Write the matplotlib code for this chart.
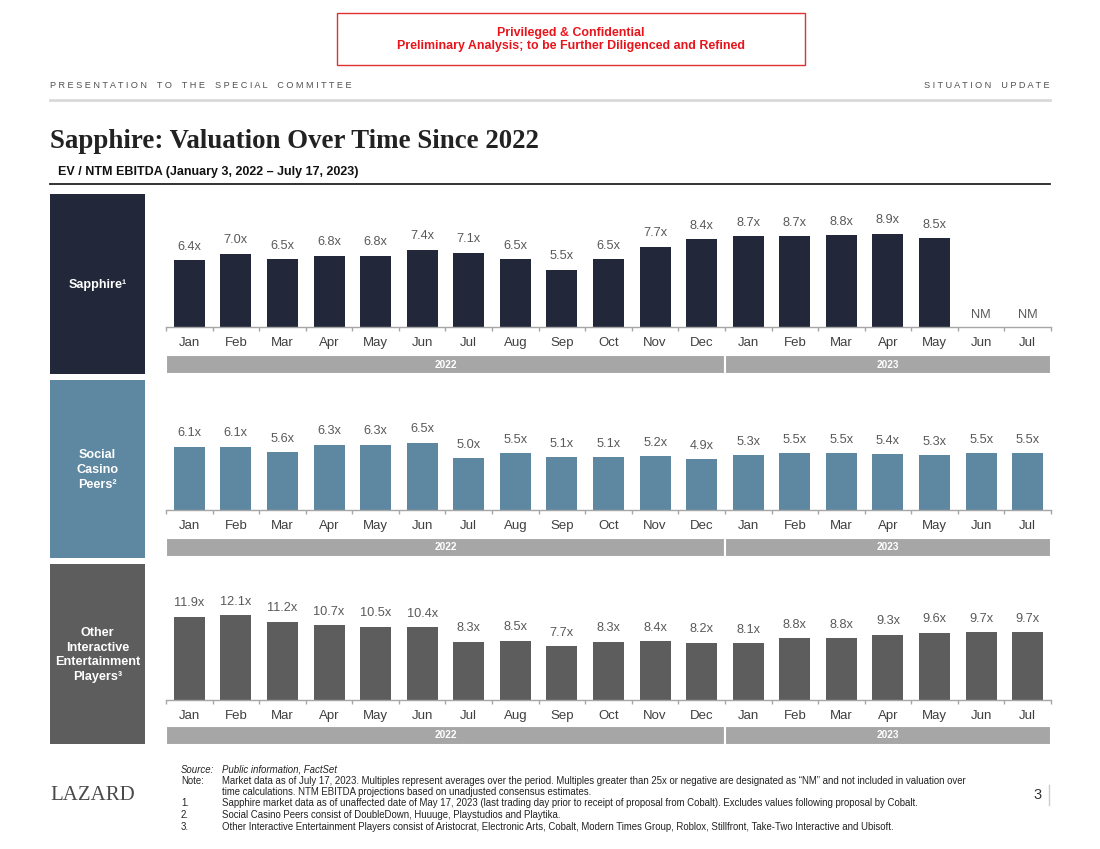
import matplotlib
matplotlib.use("Agg")
import matplotlib.pyplot as plt
from matplotlib.patches import Rectangle
from matplotlib.lines import Line2D
import numpy as np

W, H = 1100, 849

months = ["Jan", "Feb", "Mar", "Apr", "May", "Jun", "Jul", "Aug", "Sep", "Oct", "Nov", "Dec",
          "Jan", "Feb", "Mar", "Apr", "May", "Jun", "Jul"]
years = ["2022", "2023"]
year_counts = [12, 7]

sapphire = [6.4, 7.0, 6.5, 6.8, 6.8, 7.4, 7.1, 6.5, 5.5, 6.5, 7.7, 8.4,
            8.7, 8.7, 8.8, 8.9, 8.5, None, None]
social = [6.1, 6.1, 5.6, 6.3, 6.3, 6.5, 5.0, 5.5, 5.1, 5.1, 5.2, 4.9,
          5.3, 5.5, 5.5, 5.4, 5.3, 5.5, 5.5]
other = [11.9, 12.1, 11.2, 10.7, 10.5, 10.4, 8.3, 8.5, 7.7, 8.3, 8.4, 8.2,
         8.1, 8.8, 8.8, 9.3, 9.6, 9.7, 9.7]

panel_labels = ["Sapphire\u00b9", "Social\nCasino\nPeers\u00b2",
                "Other\nInteractive\nEntertainment\nPlayers\u00b3"]
colors = ["#22273a", "#5e87a1", "#5d5d5d"]

SANS = ["Liberation Sans", "DejaVu Sans"]
NARROW = ["Liberation Sans Narrow", "Liberation Sans", "DejaVu Sans"]
SERIF = ["Liberation Serif", "DejaVu Serif"]

fig = plt.figure(figsize=(W / 100, H / 100), dpi=100)
fig.patch.set_facecolor("white")


def fx(x):
    return x / W


def fy(y):
    return 1 - y / H


def box(x0, y0, x1, y1, **kw):
    fig.patches.append(Rectangle((fx(x0), fy(y1)), fx(x1) - fx(x0), fy(y0) - fy(y1),
                                 transform=fig.transFigure, **kw))


def hline(x0, x1, y, **kw):
    fig.lines.append(Line2D([fx(x0), fx(x1)], [fy(y), fy(y)], transform=fig.transFigure, **kw))


# Red confidential box
box(337, 13, 805, 65, facecolor="white", edgecolor="#e03030", linewidth=1.0)
fig.text(fx(571), fy(33), "Privileged & Confidential", ha="center", va="center",
         color="#e8141b", fontsize=8.9, fontweight="bold", family=NARROW)
fig.text(fx(571), fy(46), "Preliminary Analysis; to be Further Diligenced and Refined", ha="center",
         va="center", color="#e8141b", fontsize=8.9, fontweight="bold", family=NARROW)


def spaced(s):
    return " ".join(list(s)).replace("   ", "    ")


fig.text(fx(50), fy(85), spaced("PRESENTATION TO THE SPECIAL COMMITTEE"), ha="left", va="center",
         color="#505050", fontsize=6.6, family=SANS)
fig.text(fx(1050), fy(85), spaced("SITUATION UPDATE"), ha="right", va="center",
         color="#505050", fontsize=6.6, family=SANS)
hline(50, 1050, 100, color="#d9d9d9", linewidth=2)

# Title
fig.text(fx(50), fy(142), "Sapphire: Valuation Over Time Since 2022", ha="left", va="center",
         color="#222222", fontsize=19.4, fontweight="bold", family=SERIF)
fig.text(fx(58), fy(172), "EV / NTM EBITDA (January 3, 2022 \u2013 July 17, 2023)", ha="left",
         va="center", color="#111111", fontsize=9, fontweight="bold", family=SANS)
hline(50, 1050, 184, color="#222222", linewidth=1.3)

# panels: (values, side box y0, y1, baseline, px per unit, year bar y0, y1)
panels = [
    (sapphire, 194, 374, 327, 10.45, 355, 374),
    (social, 380, 558, 510, 10.35, 538, 557),
    (other, 564, 744, 700, 7.0, 726, 745),
]

X0, X1 = 166, 1051
n = len(months)
for (vals, by0, by1, base, scale, yb0, yb1), lab, col in zip(panels, panel_labels, colors):
    box(50, by0, 145, by1, facecolor=col, edgecolor="none")
    fig.text(fx(97.5), fy((by0 + by1) / 2 + 1), lab, ha="center", va="center", color="white",
             fontsize=9.1, fontweight="bold", family=SANS, linespacing=1.3)

    top = by0 + 4
    hpx = base - top
    ax = fig.add_axes([fx(X0), fy(base), fx(X1) - fx(X0), hpx / H])
    ax.set_xlim(-0.5, n - 0.5)
    ax.set_ylim(0, hpx / scale)
    xs = np.arange(n)
    for i, v in enumerate(vals):
        if v is None:
            ax.annotate("NM", (i, 0), xytext=(0, 12 * 0.72), textcoords="offset points",
                        ha="center", va="center", color="#595959", fontsize=9.2, family=SANS)
        else:
            ax.bar(i, v, width=0.665, color=col, edgecolor="none")
            ax.annotate(f"{v:.1f}x", (i, v), xytext=(0, 13.5 * 0.72), textcoords="offset points",
                        ha="center", va="center", color="#595959", fontsize=9.2, family=SANS)
    for s in ["top", "right", "left"]:
        ax.spines[s].set_visible(False)
    ax.spines["bottom"].set_color("#a6a6a6")
    ax.spines["bottom"].set_linewidth(1.0)
    ax.set_yticks([])
    ax.set_xticks(xs)
    ax.set_xticklabels(months, fontsize=9.5, color="#404040", family=SANS)
    ax.tick_params(axis="x", which="major", length=0, pad=7.5)
    ax.set_xticks(np.arange(n + 1) - 0.5, minor=True)
    ax.tick_params(axis="x", which="minor", length=3, color="#a6a6a6", width=1, direction="out")
    ax.patch.set_alpha(0)

    # year band
    axy = fig.add_axes([fx(X0), fy(yb1), fx(X1) - fx(X0), (yb1 - yb0) / H])
    axy.set_xlim(-0.5, n - 0.5)
    axy.set_ylim(0, 1)
    left = -0.5
    for yr, c in zip(years, year_counts):
        axy.barh(0.5, c, left=left, height=1.0, color="#a6a6a6", edgecolor="white", linewidth=1.5)
        axy.text(left + c / 2, 0.5, yr, ha="center", va="center", color="white",
                 fontsize=7.3, fontweight="bold", family=SANS)
        left += c
    axy.axis("off")

# Footer
fig.text(fx(50), fy(795), "LAZARD", ha="left", va="center", fontsize=15, color="#4a4a4a",
         family=SERIF)

fs = 6.9
fig.text(fx(181), fy(770), "Source:", ha="left", va="center", fontsize=fs, style="italic",
         color="#222222", family=NARROW)
fig.text(fx(222), fy(770), "Public information, FactSet", ha="left", va="center", fontsize=fs,
         style="italic", color="#222222", family=NARROW)
notes = [
    (781, "Note:", "Market data as of July 17, 2023. Multiples represent averages over the period. Multiples greater than 25x or negative are designated as \u201cNM\u201d and not included in valuation over"),
    (792, "", "time calculations. NTM EBITDA projections based on unadjusted consensus estimates."),
    (803, "1.", "Sapphire market data as of unaffected date of May 17, 2023 (last trading day prior to receipt of proposal from Cobalt). Excludes values following proposal by Cobalt."),
    (815, "2.", "Social Casino Peers consist of DoubleDown, Huuuge, Playstudios and Playtika."),
    (827, "3.", "Other Interactive Entertainment Players consist of Aristocrat, Electronic Arts, Cobalt, Modern Times Group, Roblox, Stillfront, Take-Two Interactive and Ubisoft."),
]
for y, a, b in notes:
    if a:
        fig.text(fx(181), fy(y), a, ha="left", va="center", fontsize=fs, color="#222222", family=NARROW)
    fig.text(fx(222), fy(y), b, ha="left", va="center", fontsize=fs, color="#222222", family=NARROW)

fig.text(fx(1038), fy(795), "3", ha="center", va="center", fontsize=10.5, color="#333333", family=NARROW)
fig.lines.append(Line2D([fx(1049), fx(1049)], [fy(785), fy(805)], transform=fig.transFigure,
                        color="#cccccc", linewidth=1))

fig.savefig("out.png", dpi=100, facecolor="white")
